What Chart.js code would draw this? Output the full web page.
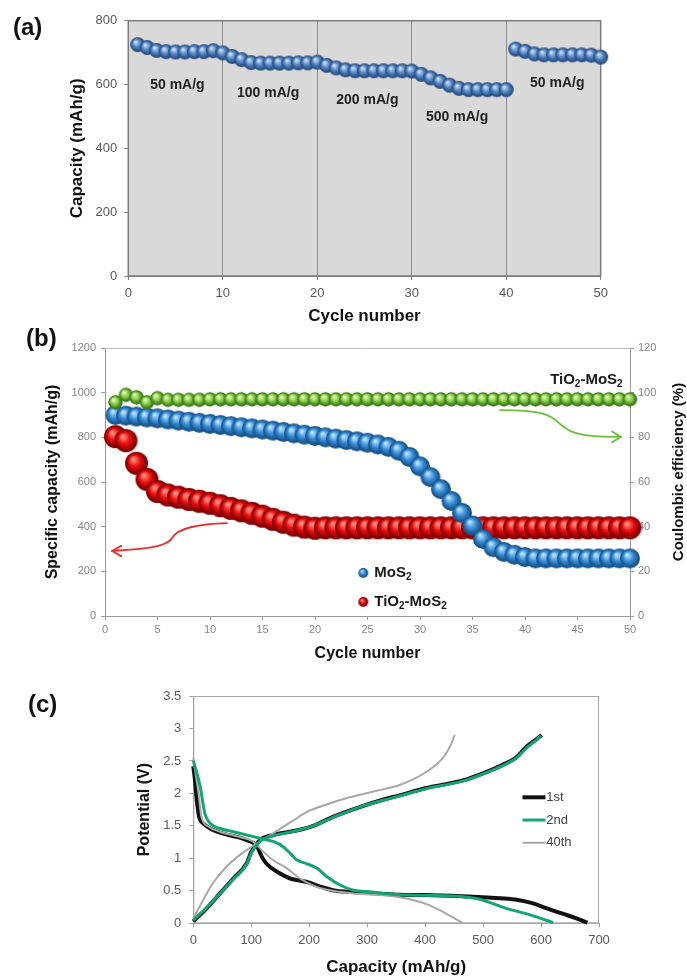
<!DOCTYPE html>
<html><head><meta charset="utf-8">
<script src="https://cdn.jsdelivr.net/npm/chart.js@4.4.1/dist/chart.umd.min.js"></script>
<style>
html,body{margin:0;padding:0;background:#fff;width:687px;height:978px;overflow:hidden;position:relative;}
canvas{position:absolute;left:0;}
.lbl{position:absolute;z-index:5;font:bold 24px "Liberation Sans",Arial,sans-serif;color:#111;line-height:1;}
</style></head><body>
<canvas id="cA" width="687" height="335" style="top:0;width:687px;height:335px"></canvas>
<canvas id="cB" width="687" height="333" style="top:330px;width:687px;height:333px"></canvas>
<canvas id="cC" width="687" height="318" style="top:660px;width:687px;height:318px"></canvas>
<div class="lbl" style="left:13px;top:15px">(a)</div>
<div class="lbl" style="left:26px;top:326px">(b)</div>
<div class="lbl" style="left:28px;top:692px">(c)</div>
<script>
// ---------- DATA ----------
// (a) rate capability
const cyclesA = [1,2,3,4,5,6,7,8,9,10,11,12,13,14,15,16,17,18,19,20,21,22,23,24,25,26,27,28,29,30,31,32,33,34,35,36,37,38,39,40,41,42,43,44,45,46,47,48,49,50];
const capacityA = [725,716,707,703,702,702,703,703,706,699, 688,678,669,667,667,667,667,668,668,670, 660,652,646,643,643,643,643,643,643,642, 632,621,610,598,588,584,584,584,584,584, 711,704,696,693,693,693,693,693,692,686];
const rateLabelsA = ['50 mA/g','100 mA/g','200 mA/g','500 mA/g','50 mA/g'];

// (b) cycling
const cyclesB = [1,2,3,4,5,6,7,8,9,10,11,12,13,14,15,16,17,18,19,20,21,22,23,24,25,26,27,28,29,30,31,32,33,34,35,36,37,38,39,40,41,42,43,44,45,46,47,48,49,50];
const mos2CapB = [900,897,893,889,885,880,875,870,865,860, 855,850,845,840,835,830,824,818,812,806, 800,794,788,782,776,768,757,740,712,670, 622,568,515,462,405,345,308,287,274,264, 258,258,258,258,258,258,258,258,258,258];
const tio2Mos2CapB = [803,785,684,612,558,542,532,522,514,505, 494,482,471,460,447,433,420,407,398,393, 395,395,395,395,395,395,395,395,395,395, 395,395,395,395,395,395,395,395,395,395, 395,395,395,395,395,395,395,395,395,395];
const coulombicB = [95.7,99.0,97.9,95.7,97.5,96.8,96.8,96.8,96.8,97.0, 97,97,97,97,97,97,97,97,97,97, 97,97,97,97,97,97,97,97,97,97, 97,97,97,97,97,97,97,97,97,97, 97,97,97,97,97,97,97,97,97,97];
const seriesNamesB = ['MoS_2','TiO_2-MoS_2'];

// (c) charge/discharge profiles
const dis1Cap = [0,3,6,10,17,29,52,80,98,109,118,126,149,167,195,218,241,276,316,356,400,465,500,530,560,585,610,640,660,680];
const dis1V   = [2.42,2.2,1.9,1.64,1.54,1.46,1.38,1.32,1.26,1.2,1.03,0.92,0.77,0.69,0.64,0.57,0.51,0.48,0.46,0.44,0.435,0.415,0.40,0.385,0.36,0.31,0.23,0.14,0.08,0.01];
const chg1Cap = [0,23,46,69,92,100,115,138,160,184,207,241,287,330,356,400,465,500,534,558,575,590,601];
const chg1V   = [0.03,0.23,0.46,0.69,0.92,1.1,1.28,1.36,1.4,1.44,1.5,1.64,1.79,1.91,1.97,2.08,2.2,2.31,2.44,2.56,2.72,2.82,2.9];
const dis2Cap = [0,5,12,20,29,46,69,92,115,138,155,167,178,195,213,230,253,276,299,328,356,400,465,494,540,581,621];
const dis2V   = [2.5,2.35,2.1,1.69,1.54,1.46,1.41,1.36,1.31,1.26,1.18,1.08,0.98,0.92,0.85,0.72,0.59,0.51,0.49,0.46,0.44,0.43,0.41,0.37,0.23,0.13,0.01];
const chg2Cap = [0,23,46,69,92,100,115,138,160,184,207,241,287,330,356,400,465,500,534,558,575,590,600];
const chg2V   = [0.05,0.24,0.46,0.68,0.91,1.08,1.26,1.35,1.39,1.44,1.5,1.63,1.79,1.9,1.96,2.07,2.19,2.3,2.43,2.55,2.7,2.81,2.89];
const dis40Cap = [0,4,9,14,26,46,80,103,121,138,161,184,213,241,276,316,350,379,407,436,464];
const dis40V   = [2.55,2.3,2.0,1.64,1.49,1.41,1.33,1.26,1.10,0.97,0.85,0.69,0.56,0.50,0.46,0.44,0.41,0.36,0.28,0.15,0.01];
const chg40Cap = [0,17,34,57,80,103,126,149,172,195,230,270,316,356,380,407,431,445,451];
const chg40V   = [0.08,0.36,0.62,0.87,1.05,1.19,1.32,1.45,1.58,1.71,1.83,1.94,2.04,2.13,2.22,2.36,2.55,2.76,2.9];
const cycleNamesC = ['1st','2nd','40th'];

// ---------- HELPERS ----------
const FONT = '"Liberation Sans", Arial, Helvetica, sans-serif';
Chart.defaults.font.family = FONT;
const xy = (xs, ys) => xs.map((v,i)=>({x:v, y:ys[i]}));

function sphere(r, c0, c1, c2) {
  const s = Math.ceil(2*r) + 2;
  const cv = document.createElement('canvas'); cv.width = s; cv.height = s;
  const g = cv.getContext('2d');
  const cx = s/2, cy = s/2;
  const grd = g.createRadialGradient(cx - r*0.3, cy - r*0.38, r*0.05, cx, cy, r);
  grd.addColorStop(0, c0); grd.addColorStop(0.45, c1); grd.addColorStop(0.85, c2); grd.addColorStop(1, c2);
  g.fillStyle = grd; g.beginPath(); g.arc(cx, cy, r, 0, Math.PI*2); g.fill();
  return cv;
}
function richText(ctx, str, x, y, size, align, color) {
  const parts = str.split(/_(\d)/);
  const segs = parts.map((t,i)=>({t, sub: i%2===1}));
  let w = 0;
  segs.forEach(s=>{ ctx.font = `bold ${s.sub? Math.round(size*0.65): size}px ${FONT}`; s.w = ctx.measureText(s.t).width; w += s.w; });
  let cx = align === 'right' ? x - w : (align === 'center' ? x - w/2 : x);
  ctx.fillStyle = color; ctx.textAlign = 'left'; ctx.textBaseline = 'middle';
  segs.forEach(s=>{ ctx.font = `bold ${s.sub? Math.round(size*0.65): size}px ${FONT}`; ctx.fillText(s.t, cx, y + (s.sub? size*0.3 : 0)); cx += s.w; });
}
const fitW = w => (s => { s.width = w; });
const fitH = h => (s => { s.height = h; });
const bold = size => ({family: FONT, size, weight: 'bold'});

// ---------- (a) ----------
const ballA = sphere(7.5, '#d6e7fa', '#5a8ccb', '#2c5182');
const rateAnchorA = [[5.2,599],[14.8,574],[25.3,552],[34.8,499],[45.4,605]];
new Chart(document.getElementById('cA'), {
  type: 'scatter',
  data: { datasets: [{ data: xy(cyclesA, capacityA), pointStyle: ballA, pointRadius: 7.5, clip: false }] },
  options: {
    responsive: false, animation: false, events: [],
    layout: { padding: { top: 20.7, left: 63, right: 86.3, bottom: 0 } },
    plugins: { legend: {display:false}, tooltip: {enabled:false} },
    scales: {
      x: { type:'linear', min:0, max:50,
           ticks: { stepSize:10, color:'#595959', font:{size:13}, padding:6 },
           grid: { color:'#8a8a8a', tickColor:'#808080', tickLength:4 },
           border: { color:'#808080' },
           title: { display:true, text:'Cycle number', color:'#111', font: bold(17), padding:{top:0,bottom:8} },
           afterFit: fitH(59) },
      y: { min:0, max:800,
           ticks: { stepSize:200, color:'#595959', font:{size:13}, padding:7 },
           grid: { drawOnChartArea:false, tickColor:'#808080', tickLength:4 },
           border: { color:'#808080' },
           title: { display:true, text:'Capacity (mAh/g)', color:'#111', font: bold(17) },
           afterFit: fitW(65.3) }
    }
  },
  plugins: [{
    id:'bgA',
    beforeDraw(chart){ const {ctx, chartArea:a} = chart; ctx.save(); ctx.fillStyle='#d9d9d9'; ctx.fillRect(a.left,a.top,a.right-a.left,a.bottom-a.top); ctx.restore(); },
    beforeDatasetsDraw(chart){ const {ctx, chartArea:a} = chart; ctx.save(); ctx.strokeStyle='#7d7d7d'; ctx.lineWidth=1.5; ctx.strokeRect(a.left,a.top,a.right-a.left,a.bottom-a.top); ctx.restore(); },
    afterDatasetsDraw(chart){ const {ctx, scales:{x,y}} = chart; ctx.save();
      ctx.font = `bold 14px ${FONT}`; ctx.fillStyle='#222'; ctx.textAlign='center'; ctx.textBaseline='middle';
      rateLabelsA.forEach((t,i)=> ctx.fillText(t, x.getPixelForValue(rateAnchorA[i][0]), y.getPixelForValue(rateAnchorA[i][1])));
      ctx.restore(); }
  }]
});

// ---------- (b) ----------
const ballBlue = sphere(10, '#c8e8ff', '#3a92dc', '#1a568f');
const ballRed = sphere(11.5, '#ff9c8c', '#f01010', '#8a0000');
const ballGreen = sphere(7.2, '#eaffc0', '#8ccf4c', '#3d7c18');
const dotBlue = sphere(5, '#c8e8ff', '#3a92dc', '#1a568f');
const dotRed = sphere(5, '#ff9c8c', '#f01010', '#880000');
new Chart(document.getElementById('cB'), {
  type: 'scatter',
  data: { datasets: [
    { data: xy(cyclesB, coulombicB), yAxisID:'y2', pointStyle: ballGreen, pointRadius: 7.2, clip:false },
    { data: xy(cyclesB, mos2CapB), yAxisID:'y', pointStyle: ballBlue, pointRadius: 10, clip:false },
    { data: xy(cyclesB, tio2Mos2CapB), yAxisID:'y', pointStyle: ballRed, pointRadius: 11.5, clip:false }
  ] },
  options: {
    responsive: false, animation: false, events: [],
    layout: { padding: { top: 18, left: 39, right: 0, bottom: 0 } },
    plugins: { legend: {display:false}, tooltip: {enabled:false} },
    scales: {
      x: { type:'linear', min:0, max:50,
           ticks: { stepSize:5, color:'#858585', font:{size:11}, padding:3 },
           grid: { drawOnChartArea:false, tickColor:'#999', tickLength:4 },
           border: { color:'#999' },
           title: { display:true, text:'Cycle number', color:'#111', font: bold(16), padding:{top:0,bottom:0} },
           afterFit: fitH(47) },
      y: { position:'left', min:0, max:1200,
           ticks: { stepSize:200, color:'#858585', font:{size:11}, padding:5, callback: v => String(v) },
           grid: { drawOnChartArea:false, tickColor:'#999', tickLength:4 },
           border: { color:'#999' },
           title: { display:true, text:'Specific capacity (mAh/g)', color:'#111', font: bold(16) },
           afterFit: fitW(66) },
      y2: { position:'right', min:0, max:120,
           ticks: { stepSize:20, color:'#858585', font:{size:11}, padding:4, callback: v => String(v) },
           grid: { drawOnChartArea:false, tickColor:'#999', tickLength:4 },
           border: { color:'#999' },
           afterFit: fitW(57) }
    }
  },
  plugins: [{
    id:'annB',
    beforeDatasetsDraw(chart){ const {ctx, chartArea:a} = chart; ctx.save(); ctx.strokeStyle='#bdbdbd'; ctx.lineWidth=1; ctx.beginPath(); ctx.moveTo(a.left,a.top+0.5); ctx.lineTo(a.right,a.top+0.5); ctx.stroke(); ctx.restore(); },
    afterDatasetsDraw(chart){
      const {ctx, chartArea:a, scales:{x,y}} = chart;
      const P = (c,v) => [x.getPixelForValue(c), y.getPixelForValue(v)];
      ctx.save();
      const arrow = (pts, head, color) => {
        ctx.strokeStyle = color; ctx.lineWidth = 1.8; ctx.lineCap='round'; ctx.lineJoin='round';
        const q = pts.map(p=>P(p[0],p[1]));
        ctx.beginPath(); ctx.moveTo(q[0][0],q[0][1]);
        ctx.bezierCurveTo(q[1][0],q[1][1],q[2][0],q[2][1],q[3][0],q[3][1]);
        ctx.bezierCurveTo(q[4][0],q[4][1],q[5][0],q[5][1],q[6][0],q[6][1]);
        ctx.stroke();
        const h = head.map(p=>P(p[0],p[1]));
        ctx.beginPath(); ctx.moveTo(h[0][0],h[0][1]); ctx.lineTo(q[6][0],q[6][1]); ctx.lineTo(h[1][0],h[1][1]); ctx.stroke();
      };
      arrow([[37.62,922],[41.43,922],[42.38,905],[43.33,860],[44.48,806],[46.19,802],[49.14,802]], [[48.3,826],[48.3,778]], '#6cbf3a');
      arrow([[11.62,416],[9.05,412],[6.95,398],[6.38,349],[5.81,304],[3.33,300],[0.67,291]], [[1.55,314],[1.55,268]], '#e8302a');
      const lb = P(24.6,193), lr = P(24.6,63);
      ctx.drawImage(dotBlue, lb[0]-dotBlue.width/2, lb[1]-dotBlue.height/2);
      ctx.drawImage(dotRed, lr[0]-dotRed.width/2, lr[1]-dotRed.height/2);
      richText(ctx, seriesNamesB[0], lb[0]+11, lb[1], 15, 'left', '#1a1a1a');
      richText(ctx, seriesNamesB[1], lr[0]+11, lr[1], 15, 'left', '#1a1a1a');
      const tp = P(49.3,1057);
      richText(ctx, seriesNamesB[1], tp[0], tp[1], 15, 'right', '#1a1a1a');
      ctx.restore();
    },
    afterDraw(chart){
      const {ctx, chartArea:a} = chart; ctx.save();
      ctx.translate(chart.width - 8, (a.top+a.bottom)/2 - 10); ctx.rotate(-Math.PI/2);
      ctx.font = `bold 15px ${FONT}`; ctx.fillStyle='#111'; ctx.textAlign='center'; ctx.textBaseline='middle';
      ctx.fillText('Coulombic efficiency (%)', 0, 0); ctx.restore();
    }
  }]
});

// ---------- (c) ----------
const styleC = [
  { color:'#111111', w:4 },
  { color:'#12a576', w:3 },
  { color:'#a8a8a8', w:2 }
];
const lineDs = (xs, ys, k, order) => ({ data: xy(xs, ys), showLine:true, pointRadius:0, borderColor:styleC[k].color, borderWidth:styleC[k].w, cubicInterpolationMode:'monotone', order, clip:false });
new Chart(document.getElementById('cC'), {
  type: 'scatter',
  data: { datasets: [
    lineDs(dis2Cap, dis2V, 1, 0), lineDs(chg2Cap, chg2V, 1, 0),
    lineDs(dis40Cap, dis40V, 2, 1), lineDs(chg40Cap, chg40V, 2, 1),
    lineDs(dis1Cap, dis1V, 0, 2), lineDs(chg1Cap, chg1V, 0, 2)
  ] },
  options: {
    responsive: false, animation: false, events: [],
    layout: { padding: { top: 36, left: 131.4, right: 88, bottom: 0 } },
    plugins: { legend: {display:false}, tooltip: {enabled:false} },
    scales: {
      x: { type:'linear', min:0, max:700,
           ticks: { stepSize:100, color:'#595959', font:{size:13}, padding:5 },
           grid: { drawOnChartArea:false, tickColor:'#a0a0a0', tickLength:4 },
           border: { color:'#a0a0a0' },
           title: { display:true, text:'Capacity (mAh/g)', color:'#111', font: bold(17), padding:{top:0,bottom:0} },
           afterFit: fitH(54.7) },
      y: { min:0, max:3.5,
           ticks: { stepSize:0.5, color:'#595959', font:{size:13}, padding:8, callback: v => String(v) },
           grid: { drawOnChartArea:false, tickColor:'#a0a0a0', tickLength:4 },
           border: { color:'#a0a0a0' },
           title: { display:true, text:'Potential (V)', color:'#111', font: bold(16) },
           afterFit: fitW(61.9) }
    }
  },
  plugins: [{
    id:'annC',
    beforeDatasetsDraw(chart){ const {ctx, chartArea:a} = chart; ctx.save(); ctx.strokeStyle='#a8a8a8'; ctx.lineWidth=1; ctx.strokeRect(a.left+0.5,a.top+0.5,a.right-a.left-1,a.bottom-a.top-1); ctx.restore(); },
    afterDatasetsDraw(chart){
      const {ctx, scales:{x,y}} = chart; ctx.save();
      const rows = [1.94, 1.59, 1.24];
      cycleNamesC.forEach((name,k)=>{
        const yy = y.getPixelForValue(rows[k]);
        ctx.strokeStyle = styleC[k].color; ctx.lineWidth = styleC[k].w; ctx.lineCap='butt';
        ctx.beginPath(); ctx.moveTo(x.getPixelForValue(568), yy); ctx.lineTo(x.getPixelForValue(607.6), yy); ctx.stroke();
        ctx.font = `13px ${FONT}`; ctx.fillStyle='#404040'; ctx.textAlign='left'; ctx.textBaseline='middle';
        ctx.fillText(name, x.getPixelForValue(609), yy);
      });
      ctx.restore();
    }
  }]
});
</script>
</body></html>
